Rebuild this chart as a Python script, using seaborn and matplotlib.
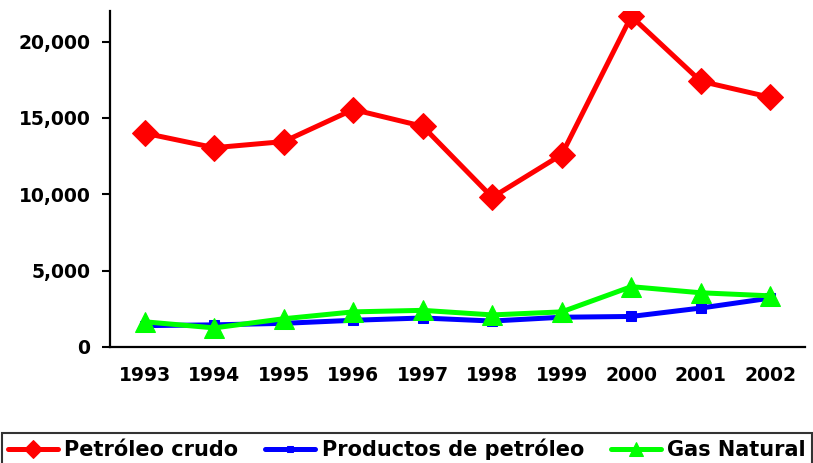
import matplotlib
matplotlib.use("Agg")
import matplotlib.pyplot as plt
import matplotlib.ticker as mticker
import seaborn as sns
import pandas as pd

sns.set_theme(style="white")
plt.rcParams['font.family'] = ['DejaVu Sans']

years = ["1993", "1994", "1995", "1996", "1997", "1998", "1999", "2000", "2001", "2002"]
crudo = [14000, 13050, 13450, 15550, 14450, 9800, 12600, 21650, 17400, 16350]
productos = [1400, 1450, 1550, 1750, 1900, 1700, 1950, 2000, 2550, 3200]
gas = [1650, 1250, 1850, 2300, 2400, 2100, 2300, 3950, 3550, 3350]

series = [
    ("Petróleo crudo", crudo, "#ff0000", "D", 13),
    ("Productos de petróleo", productos, "#0000ff", "s", 7),
    ("Gas Natural", gas, "#00ff00", "^", 15),
]

pos = list(range(len(years)))

fig = plt.figure(figsize=(8.13, 4.63), dpi=100)
ax = fig.add_axes([110 / 813, 1 - 347 / 463, 695 / 813, 336 / 463])

for name, vals, col, mk, ms in series:
    df = pd.DataFrame({"x": pos, "y": vals})
    sns.lineplot(data=df, x="x", y="y", ax=ax, color=col, marker=mk, markersize=ms,
                 markeredgecolor=col, linewidth=3.6, label=name)

ax.set_xlim(-0.5, len(years) - 0.5)
ax.set_ylim(0, 22000)
ax.set_xlabel("")
ax.set_ylabel("")

ax.set_yticks([0, 5000, 10000, 15000, 20000])
ax.yaxis.set_major_formatter(mticker.FuncFormatter(lambda v, p: f"{int(v):,}"))
ax.set_xticks(pos)
ax.set_xticklabels(years)
ax.set_xticks([p - 0.5 for p in pos] + [len(years) - 0.5], minor=True)
ax.tick_params(axis="x", which="major", length=0, pad=14)
ax.tick_params(axis="x", which="minor", length=6, width=1.5, direction="out", color="black")
ax.tick_params(axis="y", length=6, width=1.5, direction="out", color="black", left=True, pad=8)
for lab in ax.get_xticklabels() + ax.get_yticklabels():
    lab.set_fontweight("bold")
    lab.set_fontsize(13.5)
    lab.set_color("black")

for s in ["top", "right"]:
    ax.spines[s].set_visible(False)
for s in ["left", "bottom"]:
    ax.spines[s].set_color("black")
    ax.spines[s].set_linewidth(1.6)

handles, labels = ax.get_legend_handles_labels()
ax.get_legend().remove()
leg = fig.legend(handles, labels, loc="lower left", bbox_to_anchor=(0.002, -0.008), ncol=3,
                 frameon=True, fancybox=False, edgecolor="black", handlelength=2.4,
                 handletextpad=0.3, columnspacing=1.3, borderpad=0.3, borderaxespad=0,
                 markerscale=0.7,
                 prop={"weight": "bold", "size": 15})
leg.get_frame().set_linewidth(1.5)
for t in leg.get_texts():
    t.set_color("black")

fig.savefig("out.png", dpi=100)
